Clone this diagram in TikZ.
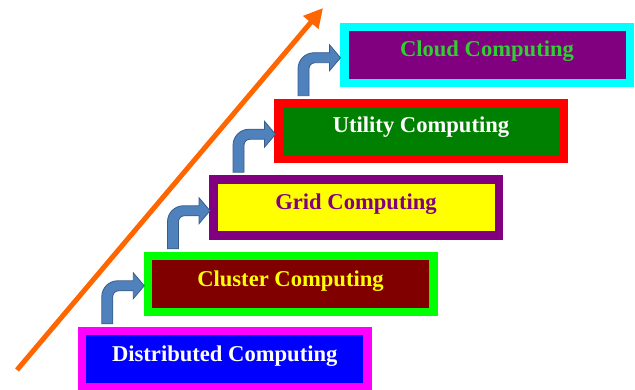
\documentclass[tikz,border=0pt]{standalone}
\usepackage{fontspec}
\setmainfont{Liberation Serif}
\usetikzlibrary{arrows.meta,calc}

\definecolor{distfill}{RGB}{0,0,255}
\definecolor{distedge}{RGB}{255,0,255}
\definecolor{clusfill}{RGB}{128,0,0}
\definecolor{clusedge}{RGB}{0,255,0}
\definecolor{clustext}{RGB}{255,255,0}
\definecolor{gridfill}{RGB}{255,255,0}
\definecolor{gridedge}{RGB}{128,0,128}
\definecolor{utilfill}{RGB}{0,128,0}
\definecolor{utiledge}{RGB}{255,0,0}
\definecolor{cloudfill}{RGB}{128,0,128}
\definecolor{cloudedge}{RGB}{0,255,255}
\definecolor{cloudtext}{RGB}{50,205,50}
\definecolor{arrowfill}{RGB}{79,129,189}
\definecolor{arrowedge}{RGB}{56,93,138}
\definecolor{growth}{RGB}{255,102,0}

\tikzset{
  stage/.style={draw, line width=8.5pt, minimum width=285.5pt,
    minimum height=56pt, inner sep=0pt, text height=10pt, text depth=6pt,
    font=\fontsize{22.6pt}{27pt}\selectfont\bfseries},
  % bent-up block arrow: shaft rises from (0,0), turns right, head points right
  bentarrow/.pic={
    \filldraw[fill=arrowfill, draw=arrowedge, line width=0.8pt]
      (-5.5,0) -- (-5.5,27) arc[start angle=180, end angle=90, radius=16]
      -- (26,43) -- (26,51) -- (37,38) -- (26,25) -- (26,33) -- (11.5,33)
      arc[start angle=90, end angle=180, radius=6] -- (5.5,0) -- cycle;
  }
}

\begin{document}
\begin{tikzpicture}[x=1pt,y=1pt]
\useasboundingbox (0,0) rectangle (635,389);

% rising trend arrow behind the staircase
\coordinate (trendstart) at (17,19);
\coordinate (trendend) at (323,381);
\draw[growth, line width=5pt, -{Triangle[length=19pt,width=19pt]}]
  (trendstart) -- (trendend);

% the five steps
\node[stage, draw=distedge, fill=distfill, text=white]
  (dist) at (224.75,30) {Distributed Computing};
\node[stage, draw=clusedge, fill=clusfill, text=clustext]
  (clus) at (290.5,105) {Cluster Computing};
\node[stage, draw=gridedge, fill=gridfill, text=gridedge]
  (grid) at (356,181.5) {Grid Computing};
\node[stage, draw=utiledge, fill=utilfill, text=white]
  (util) at (421,258) {Utility Computing};
\node[stage, draw=cloudedge, fill=cloudfill, text=cloudtext]
  (cloud) at (487,334) {Cloud Computing};

% bent arrows leading from each step to the next
\pic at ($(dist.north west)+(29.5,3)$) {bentarrow};
\pic at ($(clus.north west)+(29.5,3)$) {bentarrow};
\pic at ($(grid.north west)+(29.5,3)$) {bentarrow};
\pic at ($(util.north west)+(29.5,3)$) {bentarrow};
\end{tikzpicture}
\end{document}
